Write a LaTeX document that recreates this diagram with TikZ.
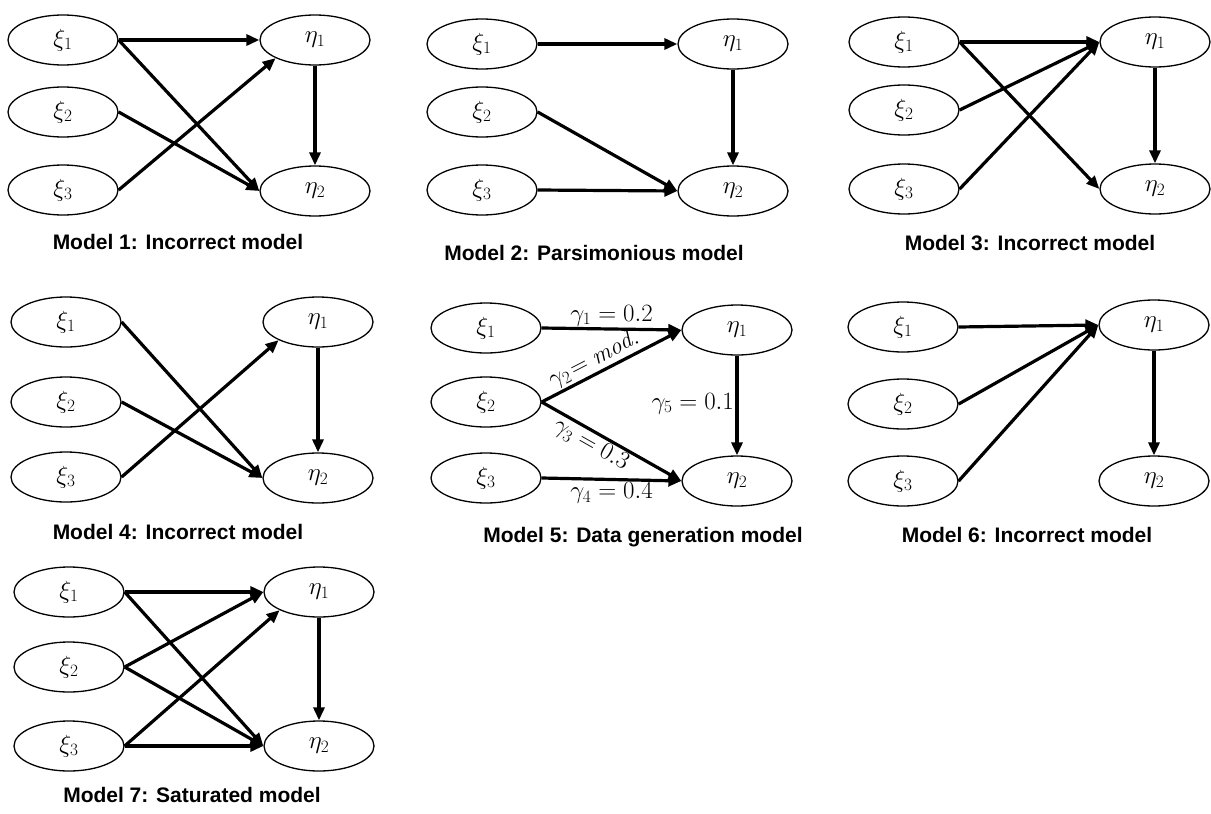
\documentclass[tikz,border=0pt]{standalone}
\usepackage{fontspec}
\newfontfamily\titlefont{Liberation Sans}
\usetikzlibrary{shapes.geometric,arrows.meta}
\tikzset{
  var/.style={ellipse,draw,line width=1.3pt,minimum width=110pt,minimum height=50pt,inner sep=0pt,font=\fontsize{26}{29}\selectfont},
  path/.style={line width=3.2pt,-{Triangle[length=13pt,width=11pt]}},
  ttl/.style={font=\titlefont\bfseries\fontsize{21}{24}\selectfont},
  lab/.style={font=\fontsize{24}{26}\selectfont,inner sep=1.5pt}
}
\newcommand\mkmodel[9]{%
  \node[var] (#1x1) at (#2,#4) {$\xi_1$};
  \node[var] (#1x2) at (#2,#5) {$\xi_2$};
  \node[var] (#1x3) at (#2,#6) {$\xi_3$};
  \node[var] (#1e1) at (#3,#7) {$\eta_1$};
  \node[var] (#1e2) at (#3,#8) {$\eta_2$};
}
\begin{document}
\begin{tikzpicture}[x=1pt,y=-1pt]
\useasboundingbox (0,0) rectangle (1211,814);
% Model 1
\mkmodel{a}{63}{315}{40}{112}{190}{40}{191}{}
\node[ttl] (ta) at (178,242) {Model 1: Incorrect model};
\draw[path] (ae1.south) -- (ae2.north);
\draw[path] (ax1.east) -- (ae1.west);
\draw[path] (ax1.east) -- (ae2.west);
\draw[path] (ax2.east) -- (ae2.west);
\draw[path] (ax3.east) -- (ae1.south west);
% Model 2
\mkmodel{b}{482}{733}{44}{112}{190}{44}{191}{}
\node[ttl] (tb) at (594,253) {Model 2: Parsimonious model};
\draw[path] (be1.south) -- (be2.north);
\draw[path] (bx1.east) -- (be1.west);
\draw[path] (bx2.east) -- (be2.west);
\draw[path] (bx3.east) -- (be2.west);
% Model 3
\mkmodel{c}{904}{1155}{42}{110}{189}{42}{189}{}
\node[ttl] (tc) at (1030,243) {Model 3: Incorrect model};
\draw[path] (ce1.south) -- (ce2.north);
\draw[path] (cx1.east) -- (ce1.west);
\draw[path] (cx2.east) -- (ce1.west);
\draw[path] (cx3.east) -- (ce1.west);
\draw[path] (cx1.east) -- (ce2.west);
% Model 4
\mkmodel{d}{66}{318}{322}{402}{477}{322}{478}{}
\node[ttl] (td) at (178,532) {Model 4: Incorrect model};
\draw[path] (de1.south) -- (de2.north);
\draw[path] (dx1.east) -- (de2.west);
\draw[path] (dx2.east) -- (de2.west);
\draw[path] (dx3.east) -- (de1.south west);
% Model 5
\mkmodel{e}{486}{737}{328}{402}{478}{330}{481}{}
\node[ttl] (te) at (643,537) {Model 5: Data generation model};
\draw[path] (ee1.south) -- node[lab,left,pos=0.48] {$\gamma_5=0.1$} (ee2.north);
\draw[path] (ex1.east) -- node[lab,above] {$\gamma_1=0.2$} (ee1.west);
\draw[path] (ex2.east) -- node[lab,above,sloped,pos=0.42] {$\gamma_2\!=\mathit{mod.}$} (ee1.west);
\draw[path] (ex2.east) -- node[lab,below,sloped,pos=0.4] {$\gamma_3=0.3$} (ee2.west);
\draw[path] (ex3.east) -- node[lab,below] {$\gamma_4=0.4$} (ee2.west);
% Model 6
\mkmodel{f}{903}{1154}{327}{404}{481}{325}{481}{}
\node[ttl] (tf) at (1027,535) {Model 6: Incorrect model};
\draw[path] (fe1.south) -- (fe2.north);
\draw[path] (fx1.east) -- (fe1.west);
\draw[path] (fx2.east) -- (fe1.west);
\draw[path] (fx3.east) -- (fe1.west);
% Model 7
\mkmodel{g}{69}{319}{592}{667}{746}{592}{746}{}
\node[ttl] (tg) at (192,795) {Model 7: Saturated model};
\draw[path] (ge1.south) -- (ge2.north);
\draw[path] (gx1.east) -- (ge1.west);
\draw[path] (gx1.east) -- (ge2.west);
\draw[path] (gx2.east) -- (ge1.west);
\draw[path] (gx2.east) -- (ge2.west);
\draw[path] (gx3.east) -- (ge1.south west);
\draw[path] (gx3.east) -- (ge2.west);
\end{tikzpicture}
\end{document}
